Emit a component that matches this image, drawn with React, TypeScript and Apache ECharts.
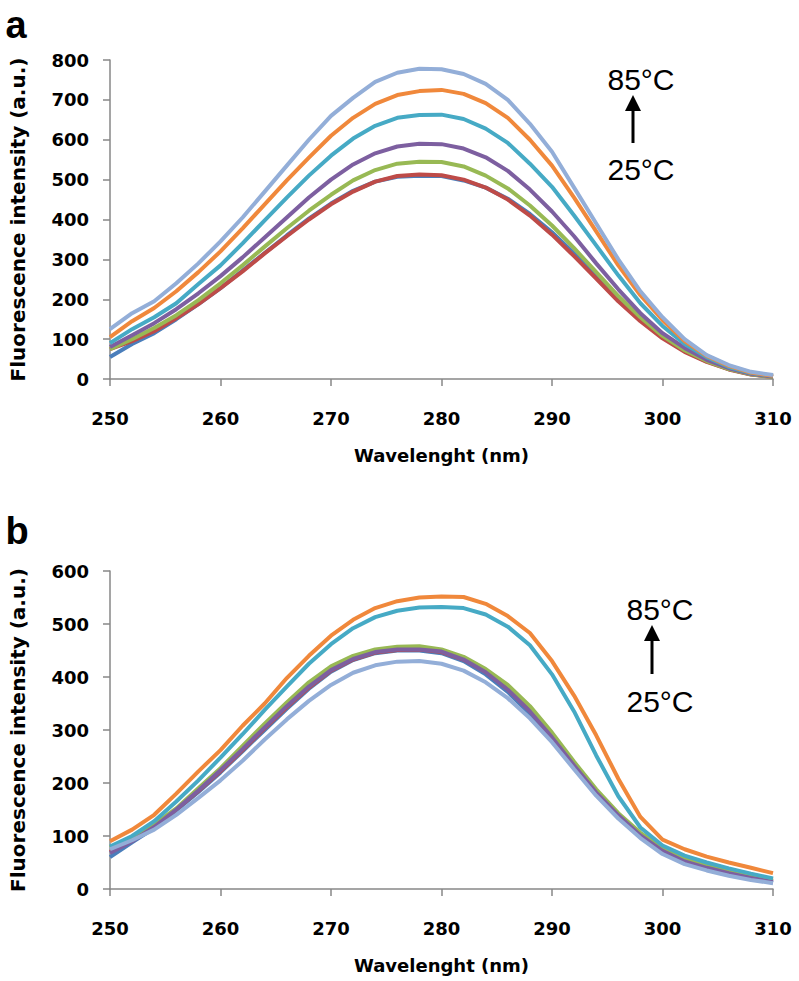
import React, { useEffect, useRef } from "react";
import * as echarts from "echarts";

const wavelengths = [250, 252, 254, 256, 258, 260, 262, 264, 266, 268, 270, 272, 274, 276, 278, 280, 282, 284, 286, 288, 290, 292, 294, 296, 298, 300, 302, 304, 306, 308, 310];

// Panel a
const aBlue = [55, 88, 115, 150, 188, 228, 272, 316, 360, 402, 440, 472, 495, 507, 510, 509, 498, 480, 452, 414, 368, 315, 260, 203, 150, 106, 70, 44, 25, 12, 6];
const aRed = [75, 95, 120, 152, 188, 228, 270, 315, 358, 400, 438, 470, 495, 509, 513, 511, 500, 480, 450, 410, 362, 308, 252, 195, 145, 102, 68, 43, 24, 11, 5];
const aGreen = [75, 100, 128, 160, 198, 240, 285, 332, 378, 422, 462, 498, 524, 540, 545, 544, 533, 510, 478, 435, 385, 328, 268, 208, 155, 108, 72, 45, 25, 12, 5];
const aPurple = [80, 110, 140, 175, 215, 258, 305, 355, 405, 455, 500, 538, 566, 583, 590, 589, 578, 556, 522, 475, 420, 358, 290, 225, 165, 115, 78, 48, 27, 13, 6];
const aTeal = [90, 125, 155, 190, 238, 285, 340, 398, 455, 510, 560, 603, 635, 655, 662, 663, 652, 628, 592, 540, 482, 410, 335, 260, 190, 133, 88, 55, 30, 15, 8];
const aOrange = [105, 145, 178, 220, 268, 320, 378, 438, 498, 555, 610, 655, 690, 712, 722, 725, 715, 692, 655, 600, 535, 455, 370, 285, 210, 148, 95, 58, 33, 16, 8];
const aLightBlue = [125, 165, 195, 240, 290, 345, 405, 470, 535, 600, 660, 705, 745, 768, 778, 777, 765, 740, 700, 640, 570, 480, 390, 300, 220, 155, 100, 60, 35, 18, 10];

// Panel b
const bBlue = [60, 88, 115, 148, 183, 220, 260, 300, 340, 378, 410, 432, 445, 450, 450, 445, 430, 405, 372, 330, 282, 229, 178, 135, 98, 69, 50, 38, 28, 20, 12];
const bRed = [70, 92, 118, 150, 185, 222, 262, 303, 343, 380, 412, 433, 446, 451, 452, 447, 433, 410, 378, 337, 288, 235, 184, 140, 103, 74, 55, 42, 32, 23, 15];
const bGreen = [78, 98, 122, 152, 190, 228, 270, 312, 352, 390, 420, 440, 452, 457, 458, 452, 438, 415, 385, 345, 295, 240, 188, 143, 106, 78, 58, 45, 33, 25, 18];
const bPurple = [68, 90, 117, 150, 186, 224, 264, 305, 345, 382, 413, 434, 447, 452, 452, 448, 433, 409, 376, 335, 286, 233, 182, 139, 101, 72, 52, 40, 30, 21, 13];
const bTeal = [80, 100, 128, 165, 205, 248, 292, 338, 382, 425, 462, 492, 513, 525, 531, 532, 530, 518, 495, 460, 405, 335, 252, 175, 116, 82, 63, 50, 39, 29, 20];
const bOrange = [90, 112, 140, 180, 222, 262, 308, 350, 398, 440, 478, 508, 530, 543, 550, 552, 551, 538, 515, 483, 430, 365, 290, 208, 136, 93, 75, 61, 50, 40, 30];
const bLightBlue = [75, 92, 112, 140, 172, 205, 242, 282, 320, 355, 385, 408, 422, 429, 430, 425, 412, 390, 360, 322, 277, 226, 176, 133, 96, 66, 47, 35, 25, 17, 11];

const yTicksA = [0, 800, 100];
const yTicksB = [0, 600, 100];
const xTicks = [250, 310, 10];

const colors = ["#4A7EBB", "#BE4B48", "#98B954", "#7D5FA0", "#46AAC5", "#F0883B", "#93AED8"];

const FONT = "'Liberation Sans', Arial, sans-serif";
const BOLDFONT = "'DejaVu Sans', 'Liberation Sans', sans-serif";

function pairs(vals: number[]) {
  return wavelengths.map((w, i) => [w, vals[i]]);
}

export default function App() {
  const ref = useRef<HTMLDivElement>(null);
  useEffect(() => {
    const chart = echarts.init(ref.current!, undefined, { renderer: "svg" });
    const axisLine = { show: true, lineStyle: { color: "#878787", width: 1.5 } };
    const axisTick = { show: true, length: 7, inside: false, lineStyle: { color: "#878787", width: 1.5 } };
    const tickLabel = { color: "#000", fontFamily: BOLDFONT, fontWeight: "bold" as const, fontSize: 18 };

    const mkX = (gi: number) => ({
      type: "value",
      gridIndex: gi,
      min: xTicks[0],
      max: xTicks[1],
      interval: xTicks[2],
      axisLine,
      axisTick,
      splitLine: { show: false },
      axisLabel: { ...tickLabel, margin: 30 },
      name: "Wavelenght (nm)",
      nameLocation: "middle",
      nameGap: 67,
      nameTextStyle: { color: "#000", fontFamily: BOLDFONT, fontWeight: "bold" as const, fontSize: 18 },
    });
    const mkY = (gi: number, t: number[]) => ({
      type: "value",
      gridIndex: gi,
      min: t[0],
      max: t[1],
      interval: t[2],
      axisLine,
      axisTick,
      splitLine: { show: false },
      axisLabel: { ...tickLabel, margin: 21 },
      name: "Fluorescence intensity (a.u.)",
      nameLocation: "middle",
      nameGap: 82,
      nameTextStyle: { color: "#000", fontFamily: BOLDFONT, fontWeight: "bold" as const, fontSize: 20 },
    });

    const setA = [aBlue, aRed, aGreen, aPurple, aTeal, aOrange, aLightBlue];
    const setB = [bBlue, bRed, bGreen, bPurple, bTeal, bOrange, bLightBlue];
    const series: any[] = [];
    setA.forEach((s, i) =>
      series.push({
        type: "line",
        xAxisIndex: 0,
        yAxisIndex: 0,
        data: pairs(s),
        showSymbol: false,
        symbol: "none",
        lineStyle: { color: colors[i], width: 4 },
      })
    );
    setB.forEach((s, i) =>
      series.push({
        type: "line",
        xAxisIndex: 1,
        yAxisIndex: 1,
        data: pairs(s),
        showSymbol: false,
        symbol: "none",
        lineStyle: { color: colors[i], width: 4 },
      })
    );

    const arrow = (x: number, top: number, bottom: number) => [
      { type: "line", shape: { x1: x, y1: bottom, x2: x, y2: top + 12 }, style: { stroke: "#000", lineWidth: 3 } },
      { type: "polygon", shape: { points: [[x, top], [x - 8, top + 16], [x + 8, top + 16]] }, style: { fill: "#000" } },
    ];
    const textEl = (txt: string, x: number, y: number, size: number, bold: boolean) => ({
      type: "text",
      x,
      y,
      style: {
        text: txt,
        fill: "#000",
        font: `${bold ? "bold " : ""}${size}px ${FONT}`,
        textAlign: "center",
        textVerticalAlign: "middle",
      },
    });

    chart.setOption({
      animation: false,
      backgroundColor: "#fff",
      grid: [
        { left: 103, right: 26, top: 60, height: 319 },
        { left: 103, right: 26, top: 571, height: 318 },
      ],
      xAxis: [mkX(0), mkX(1)],
      yAxis: [mkY(0, yTicksA), mkY(1, yTicksB)],
      series,
      graphic: [
        textEl("a", 16, 25, 38, true),
        textEl("b", 17, 531, 38, true),
        textEl("85°C", 641, 79, 30, false),
        textEl("25°C", 641, 169, 30, false),
        ...arrow(633, 95, 143),
        textEl("85°C", 660, 609, 30, false),
        textEl("25°C", 660, 701, 30, false),
        ...arrow(652, 625, 674),
      ],
    });
    return () => chart.dispose();
  }, []);
  return (
    <div
      ref={ref}
      style={{ position: "absolute", left: 0, top: 0, width: 799, height: 981, background: "#fff" }}
    />
  );
}
